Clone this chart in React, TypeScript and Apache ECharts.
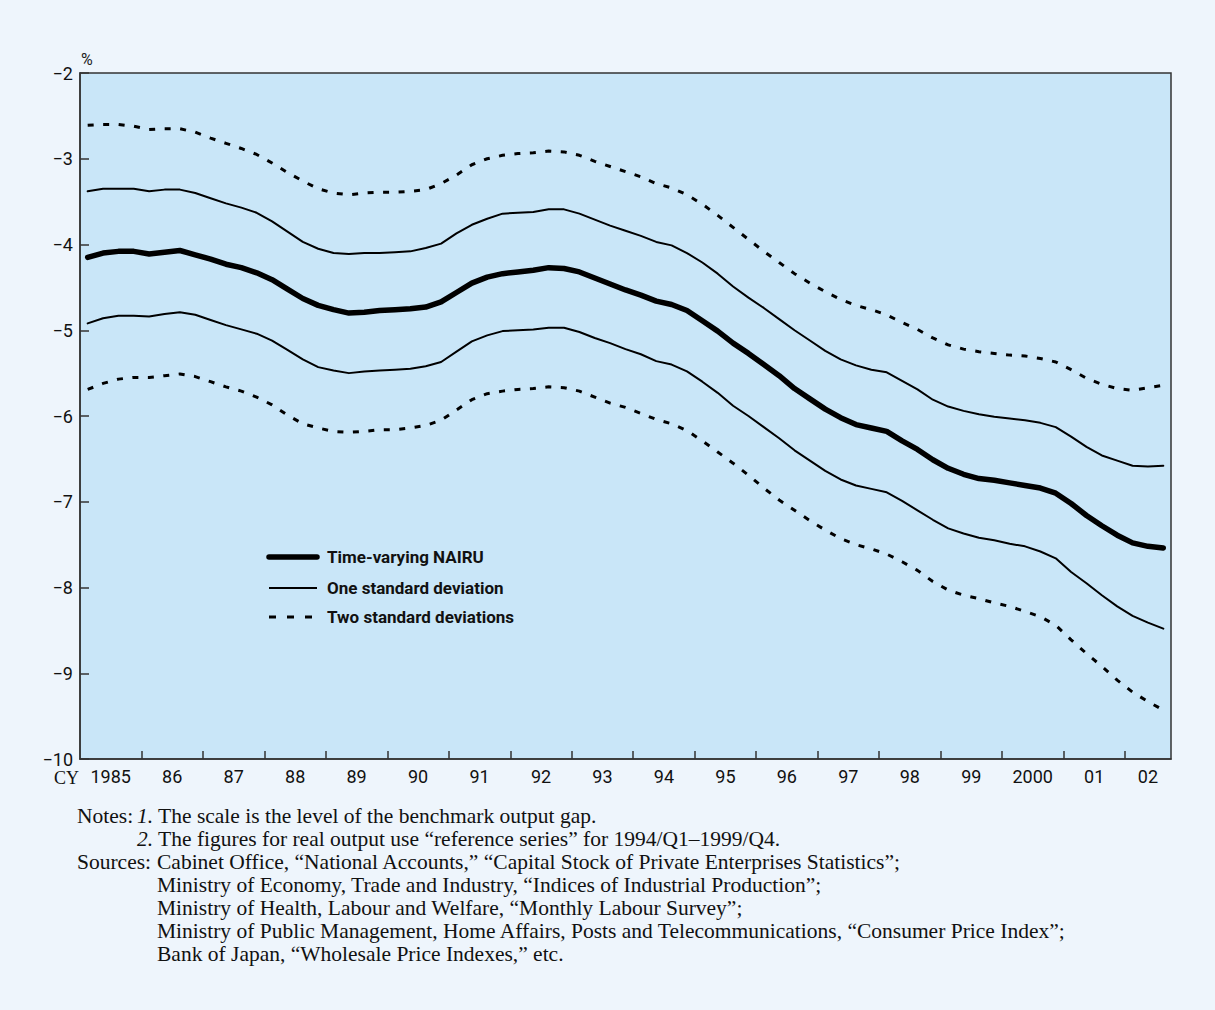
import { useEffect, useRef } from "react";
import * as echarts from "echarts";

// Quarterly estimates, 1985/Q1 – 2002/Q3 (percent)
const firstYear = 1985;
const yearLabels = ["1985", "86", "87", "88", "89", "90", "91", "92", "93", "94", "95", "96", "97", "98", "99", "2000", "01", "02"];

const nairu = [
  -4.15, -4.10, -4.08, -4.08, -4.11, -4.09, -4.07, -4.12, -4.17, -4.23,
  -4.27, -4.33, -4.41, -4.52, -4.63, -4.71, -4.76, -4.80, -4.79, -4.77,
  -4.76, -4.75, -4.73, -4.67, -4.56, -4.45, -4.38, -4.34, -4.32, -4.30,
  -4.27, -4.28, -4.32, -4.39, -4.46, -4.53, -4.59, -4.66, -4.70, -4.77,
  -4.89, -5.01, -5.15, -5.27, -5.40, -5.53, -5.68, -5.80, -5.92, -6.02,
  -6.10, -6.14, -6.18, -6.29, -6.39, -6.51, -6.61, -6.68, -6.73, -6.75,
  -6.78, -6.81, -6.84, -6.90, -7.02, -7.16, -7.28, -7.39, -7.48, -7.52,
  -7.54,
];

const upperOneSd = [
  -3.38, -3.35, -3.35, -3.35, -3.38, -3.36, -3.36, -3.40, -3.46, -3.52,
  -3.57, -3.63, -3.73, -3.85, -3.97, -4.05, -4.10, -4.11, -4.10, -4.10,
  -4.09, -4.08, -4.04, -3.99, -3.87, -3.77, -3.70, -3.64, -3.63, -3.62,
  -3.59, -3.59, -3.64, -3.71, -3.78, -3.84, -3.90, -3.97, -4.01, -4.10,
  -4.21, -4.34, -4.49, -4.62, -4.74, -4.87, -5.00, -5.12, -5.24, -5.34,
  -5.41, -5.46, -5.49, -5.59, -5.69, -5.81, -5.89, -5.94, -5.98, -6.01,
  -6.03, -6.05, -6.08, -6.13, -6.24, -6.36, -6.46, -6.52, -6.58, -6.59,
  -6.58,
];

const lowerOneSd = [
  -4.92, -4.86, -4.83, -4.83, -4.84, -4.81, -4.79, -4.82, -4.88, -4.94,
  -4.99, -5.04, -5.12, -5.23, -5.34, -5.43, -5.47, -5.50, -5.48, -5.47,
  -5.46, -5.45, -5.42, -5.37, -5.25, -5.13, -5.06, -5.01, -5.00, -4.99,
  -4.97, -4.97, -5.02, -5.09, -5.15, -5.22, -5.28, -5.36, -5.40, -5.48,
  -5.60, -5.73, -5.88, -6.00, -6.13, -6.26, -6.40, -6.52, -6.64, -6.74,
  -6.81, -6.85, -6.89, -6.99, -7.10, -7.21, -7.31, -7.37, -7.42, -7.45,
  -7.49, -7.52, -7.58, -7.66, -7.82, -7.95, -8.09, -8.22, -8.33, -8.41,
  -8.48,
];

const upperTwoSd = [
  -2.61, -2.60, -2.60, -2.62, -2.66, -2.65, -2.65, -2.69, -2.76, -2.82,
  -2.88, -2.95, -3.05, -3.16, -3.26, -3.35, -3.40, -3.42, -3.40, -3.39,
  -3.39, -3.38, -3.36, -3.29, -3.19, -3.07, -3.00, -2.96, -2.94, -2.93,
  -2.91, -2.92, -2.96, -3.03, -3.09, -3.15, -3.21, -3.29, -3.34, -3.42,
  -3.53, -3.66, -3.80, -3.94, -4.08, -4.21, -4.34, -4.45, -4.55, -4.64,
  -4.71, -4.76, -4.82, -4.91, -4.99, -5.09, -5.17, -5.22, -5.25, -5.27,
  -5.29, -5.30, -5.33, -5.37, -5.46, -5.56, -5.63, -5.68, -5.70, -5.67,
  -5.64,
];

const lowerTwoSd = [
  -5.69, -5.62, -5.57, -5.55, -5.55, -5.53, -5.51, -5.54, -5.60, -5.66,
  -5.71, -5.78, -5.87, -5.99, -6.09, -6.14, -6.18, -6.19, -6.18, -6.16,
  -6.16, -6.14, -6.11, -6.05, -5.93, -5.81, -5.74, -5.71, -5.69, -5.68,
  -5.66, -5.67, -5.71, -5.78, -5.85, -5.90, -5.97, -6.04, -6.09, -6.17,
  -6.29, -6.42, -6.55, -6.69, -6.84, -6.98, -7.10, -7.22, -7.33, -7.43,
  -7.50, -7.55, -7.61, -7.70, -7.80, -7.93, -8.03, -8.09, -8.13, -8.18,
  -8.22, -8.28, -8.34, -8.44, -8.61, -8.77, -8.92, -9.08, -9.22, -9.33,
  -9.43,
];

const legendNames = ["Time-varying NAIRU", "One standard deviation", "Two standard deviations"];

const noteLines = [
  "{i|1.} The scale is the level of the benchmark output gap.",
  "{i|2.} The figures for real output use \u201creference series\u201d for 1994/Q1\u20131999/Q4.",
];
const sourceLines = [
  "Cabinet Office, \u201cNational Accounts,\u201d \u201cCapital Stock of Private Enterprises Statistics\u201d;",
  "Ministry of Economy, Trade and Industry, \u201cIndices of Industrial Production\u201d;",
  "Ministry of Health, Labour and Welfare, \u201cMonthly Labour Survey\u201d;",
  "Ministry of Public Management, Home Affairs, Posts and Telecommunications, \u201cConsumer Price Index\u201d;",
  "Bank of Japan, \u201cWholesale Price Indexes,\u201d etc.",
];

const quarterCount = nairu.length;
const axisEnd = firstYear + quarterCount / 4;
// each quarter is plotted at its midpoint in calendar time
const toPairs = (vals: number[]) => vals.map((v, i) => [firstYear + (i + 0.5) / 4, v]);
const yearBounds = yearLabels.slice(1).map((_, k) => firstYear + k + 1);
const yearCenters = yearLabels.map((_, k) => (firstYear + k + Math.min(firstYear + k + 1, axisEnd)) / 2);

const SANS = "Roboto, 'Liberation Sans', sans-serif";
const SERIF = "'Liberation Serif', 'DejaVu Serif', serif";
const INK = "#000";
const AXIS = "#333";

export default function App() {
  const ref = useRef<HTMLDivElement>(null);

  useEffect(() => {
    if (!ref.current) return;
    const chart = echarts.init(ref.current, null, { renderer: "svg" });

    const plotLeft = 80;
    const legendX1 = 269;
    const legendX2 = 317;
    const legendTextX = 327;
    const legendY = [557, 588, 617];
    const legendStyles = [
      { lineWidth: 5.5, lineDash: null as any, lineCap: "round" },
      { lineWidth: 2, lineDash: null as any, lineCap: "butt" },
      { lineWidth: 3, lineDash: [7, 11], lineCap: "butt" },
    ];

    const noteTop = 816;
    const noteStep = 23;
    const noteSize = 21.5;

    const graphics: any[] = [];
    graphics.push({
      type: "text",
      x: plotLeft + 1,
      y: 59,
      style: { text: "%", fontSize: 16, fontFamily: SANS, fill: "#222", align: "left", verticalAlign: "middle", textAlign: "left", textVerticalAlign: "middle" },
    });
    graphics.push({
      type: "text",
      x: plotLeft - 1,
      y: 778,
      style: { text: "CY", fontSize: 18, fontFamily: SERIF, fill: "#111", align: "right", verticalAlign: "middle", textAlign: "right", textVerticalAlign: "middle" },
    });
    legendNames.forEach((name, k) => {
      const s = legendStyles[k];
      graphics.push({
        type: "line",
        shape: { x1: legendX1, y1: legendY[k], x2: legendX2, y2: legendY[k] },
        style: { stroke: INK, lineWidth: s.lineWidth, lineDash: s.lineDash, lineCap: s.lineCap },
      });
      graphics.push({
        type: "text",
        x: legendTextX,
        y: legendY[k],
        style: { text: name, fontSize: 17, fontWeight: "bold", fontFamily: SANS, fill: "#111", align: "left", verticalAlign: "middle", textAlign: "left", textVerticalAlign: "middle" },
      });
    });

    const noteStyle = { fontSize: noteSize, fontFamily: SERIF, fill: "#111", align: "left", verticalAlign: "middle", textAlign: "left", textVerticalAlign: "middle" };
    graphics.push({ type: "text", x: 77, y: noteTop, style: { ...noteStyle, text: "Notes:" } });
    noteLines.forEach((line, k) => {
      graphics.push({
        type: "text",
        x: 137,
        y: noteTop + noteStep * k,
        style: { ...noteStyle, text: line, rich: { i: { fontSize: noteSize, fontFamily: SERIF, fontStyle: "italic", fill: "#111" } } },
      });
    });
    const srcTop = noteTop + noteStep * noteLines.length;
    graphics.push({ type: "text", x: 77, y: srcTop, style: { ...noteStyle, text: "Sources:" } });
    sourceLines.forEach((line, k) => {
      graphics.push({ type: "text", x: 157, y: srcTop + noteStep * k, style: { ...noteStyle, text: line } });
    });

    const lineSeries = (name: string, vals: number[], width: number, dash: any, z: number) => ({
      name,
      type: "line",
      data: toPairs(vals),
      showSymbol: false,
      symbol: "none",
      silent: true,
      z,
      lineStyle: { color: INK, width, type: dash, cap: dash === "solid" ? "round" : "butt", join: "round" },
    });

    chart.setOption({
      animation: false,
      backgroundColor: "#EEF5FC",
      grid: {
        left: plotLeft,
        right: 44,
        top: 73,
        bottom: 251,
        show: true,
        backgroundColor: "#C9E6F8",
        borderColor: AXIS,
        borderWidth: 1.5,
      },
      xAxis: {
        type: "value",
        min: firstYear,
        max: axisEnd,
        axisLine: { show: true, lineStyle: { color: AXIS, width: 1.5 } },
        axisTick: { show: true, inside: true, length: 8, lineStyle: { color: AXIS, width: 1.5 }, customValues: yearBounds },
        axisLabel: {
          customValues: yearCenters,
          margin: 8,
          fontSize: 18,
          fontFamily: SANS,
          color: "#111",
          formatter: (v: number) => {
            const k = yearCenters.findIndex((c) => Math.abs(c - v) < 1e-6);
            return k >= 0 ? yearLabels[k] : "";
          },
        },
        splitLine: { show: false },
      },
      yAxis: {
        type: "value",
        min: -10,
        max: -2,
        interval: 1,
        axisLine: { show: true, lineStyle: { color: AXIS, width: 1.5 } },
        axisTick: { show: true, inside: true, length: 9, lineStyle: { color: AXIS, width: 1.5 } },
        axisLabel: {
          margin: 7,
          fontSize: 18,
          fontFamily: SANS,
          color: "#111",
          formatter: (v: number) => String(v).replace("-", "\u2212"),
        },
        splitLine: { show: false },
      },
      series: [
        lineSeries(legendNames[2], upperTwoSd, 3, [6, 9.5], 2),
        lineSeries(legendNames[2], lowerTwoSd, 3, [6, 9.5], 2),
        lineSeries(legendNames[1], upperOneSd, 2, "solid", 3),
        lineSeries(legendNames[1], lowerOneSd, 2, "solid", 3),
        lineSeries(legendNames[0], nairu, 5.5, "solid", 4),
      ],
      graphic: graphics,
    });

    return () => chart.dispose();
  }, []);

  return <div ref={ref} style={{ position: "absolute", left: 0, top: 0, width: 1215, height: 1010 }} />;
}
